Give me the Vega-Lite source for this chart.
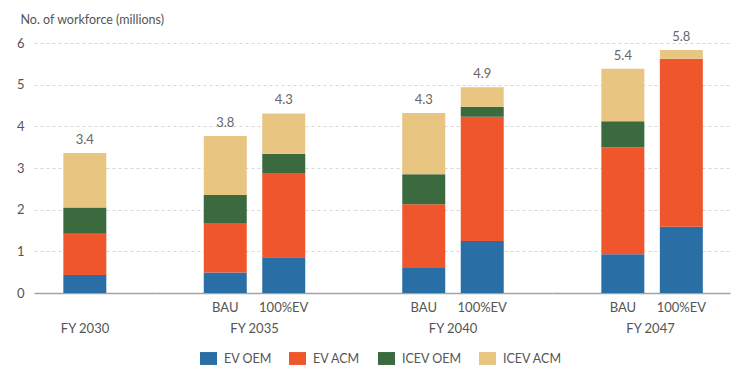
{
  "$schema": "https://vega.github.io/schema/vega-lite/v6.json",
  "padding": {"left": 16, "top": 13, "right": 5, "bottom": 5},
  "datasets": {
    "workforce": [
      {"year": "FY 2030", "scenario": "", "component": "EV OEM", "value": 0.43},
      {"year": "FY 2030", "scenario": "", "component": "EV ACM", "value": 0.99},
      {"year": "FY 2030", "scenario": "", "component": "ICEV OEM", "value": 0.63},
      {"year": "FY 2030", "scenario": "", "component": "ICEV ACM", "value": 1.31},
      {"year": "FY 2035", "scenario": "BAU", "component": "EV OEM", "value": 0.49},
      {"year": "FY 2035", "scenario": "BAU", "component": "EV ACM", "value": 1.19},
      {"year": "FY 2035", "scenario": "BAU", "component": "ICEV OEM", "value": 0.67},
      {"year": "FY 2035", "scenario": "BAU", "component": "ICEV ACM", "value": 1.42},
      {"year": "FY 2035", "scenario": "100%EV", "component": "EV OEM", "value": 0.86},
      {"year": "FY 2035", "scenario": "100%EV", "component": "EV ACM", "value": 2.02},
      {"year": "FY 2035", "scenario": "100%EV", "component": "ICEV OEM", "value": 0.46},
      {"year": "FY 2035", "scenario": "100%EV", "component": "ICEV ACM", "value": 0.97},
      {"year": "FY 2040", "scenario": "BAU", "component": "EV OEM", "value": 0.6},
      {"year": "FY 2040", "scenario": "BAU", "component": "EV ACM", "value": 1.53},
      {"year": "FY 2040", "scenario": "BAU", "component": "ICEV OEM", "value": 0.72},
      {"year": "FY 2040", "scenario": "BAU", "component": "ICEV ACM", "value": 1.47},
      {"year": "FY 2040", "scenario": "100%EV", "component": "EV OEM", "value": 1.25},
      {"year": "FY 2040", "scenario": "100%EV", "component": "EV ACM", "value": 2.98},
      {"year": "FY 2040", "scenario": "100%EV", "component": "ICEV OEM", "value": 0.24},
      {"year": "FY 2040", "scenario": "100%EV", "component": "ICEV ACM", "value": 0.47},
      {"year": "FY 2047", "scenario": "BAU", "component": "EV OEM", "value": 0.93},
      {"year": "FY 2047", "scenario": "BAU", "component": "EV ACM", "value": 2.57},
      {"year": "FY 2047", "scenario": "BAU", "component": "ICEV OEM", "value": 0.62},
      {"year": "FY 2047", "scenario": "BAU", "component": "ICEV ACM", "value": 1.26},
      {"year": "FY 2047", "scenario": "100%EV", "component": "EV OEM", "value": 1.59},
      {"year": "FY 2047", "scenario": "100%EV", "component": "EV ACM", "value": 4.03},
      {"year": "FY 2047", "scenario": "100%EV", "component": "ICEV OEM", "value": 0.0},
      {"year": "FY 2047", "scenario": "100%EV", "component": "ICEV ACM", "value": 0.21}
    ]
  },
  "data": {"name": "workforce"},
  "resolve": {"scale": {"x": "independent", "y": "independent", "color": "shared"}},
  "spacing": 0,
  "bounds": "flush",
  "hconcat": [
    {
      "width": 121,
      "height": 250,
      "transform": [
        {"filter": "datum.year === 'FY 2030'"},
        {"calculate": "indexof(['EV OEM','EV ACM','ICEV OEM','ICEV ACM'], datum.component)", "as": "ord"}
      ],
      "encoding": {
        "x": {"field": "scenario", "type": "nominal", "sort": null,
          "scale": {"paddingInner": 0.265, "paddingOuter": 0.667, "align": 0.376},
          "axis": {"title": "FY 2030", "labels": false, "ticks": false, "labelAngle": 0, "domainColor": "#a3a3a3", "domainWidth": 1.5, "titleX": 50.5, "titleY": 35, "titleBaseline": "middle", "titleFontWeight": "normal"}}
      },
      "layer": [
        {
          "mark": {"type": "bar"},
          "encoding": {
            "y": {"field": "value", "type": "quantitative", "stack": "zero",
              "scale": {"domain": [0, 6], "nice": false},
              "axis": {"title": "No. of workforce (millions)", "titleAngle": 0, "titleAlign": "left", "titleBaseline": "middle", "titleX": -14, "titleY": -24, "titleFontSize": 12.5, "titleFontWeight": "normal", "domain": false, "ticks": false, "labelPadding": 10, "values": [0, 1, 2, 3, 4, 5, 6], "gridDash": [3, 3], "gridColor": "#d6d6d6"}},
            "color": {"field": "component", "type": "nominal",
              "scale": {"domain": ["EV OEM", "EV ACM", "ICEV OEM", "ICEV ACM"], "range": ["#2a6ea6", "#f0562c", "#3a6a3e", "#e8c581"]},
              "legend": {"title": null, "orient": "none", "direction": "horizontal", "legendX": 166, "legendY": 307}},
            "order": {"field": "ord", "type": "quantitative", "sort": "ascending"}
          }
        },
        {
          "mark": {"type": "text", "dy": -13, "fontSize": 13, "color": "#666"},
          "encoding": {
            "y": {"aggregate": "sum", "field": "value", "type": "quantitative",
              "scale": {"domain": [0, 6], "nice": false},
              "axis": {"title": "No. of workforce (millions)", "titleAngle": 0, "titleAlign": "left", "titleBaseline": "middle", "titleX": -14, "titleY": -24, "titleFontSize": 12.5, "titleFontWeight": "normal", "domain": false, "ticks": false, "labelPadding": 10, "values": [0, 1, 2, 3, 4, 5, 6], "gridDash": [3, 3], "gridColor": "#d6d6d6"}},
            "text": {"aggregate": "sum", "field": "value", "type": "quantitative", "format": ".1f"}
          }
        }
      ]
    },
    {
      "width": 199,
      "height": 250,
      "transform": [
        {"filter": "datum.year === 'FY 2035'"},
        {"calculate": "indexof(['EV OEM','EV ACM','ICEV OEM','ICEV ACM'], datum.component)", "as": "ord"}
      ],
      "encoding": {
        "x": {"field": "scenario", "type": "nominal", "sort": ["BAU", "100%EV"],
          "scale": {"paddingInner": 0.265, "paddingOuter": 0.8335, "align": 0.5},
          "axis": {"title": "FY 2035", "ticks": false, "labelAngle": 0, "labelPadding": 8, "domainColor": "#a3a3a3", "domainWidth": 1.5, "titleX": 99, "titleY": 35, "titleBaseline": "middle", "titleFontWeight": "normal"}}
      },
      "layer": [
        {
          "mark": {"type": "bar"},
          "encoding": {
            "y": {"field": "value", "type": "quantitative", "stack": "zero",
              "scale": {"domain": [0, 6], "nice": false},
              "axis": {"title": null, "labels": false, "domain": false, "ticks": false, "minExtent": 0, "values": [0, 1, 2, 3, 4, 5, 6], "gridDash": [3, 3], "gridColor": "#d6d6d6"}},
            "color": {"field": "component", "type": "nominal",
              "scale": {"domain": ["EV OEM", "EV ACM", "ICEV OEM", "ICEV ACM"], "range": ["#2a6ea6", "#f0562c", "#3a6a3e", "#e8c581"]},
              "legend": {"title": null, "orient": "none", "direction": "horizontal", "legendX": 166, "legendY": 307}},
            "order": {"field": "ord", "type": "quantitative", "sort": "ascending"}
          }
        },
        {
          "mark": {"type": "text", "dy": -13, "fontSize": 13, "color": "#666"},
          "encoding": {
            "y": {"aggregate": "sum", "field": "value", "type": "quantitative",
              "scale": {"domain": [0, 6], "nice": false},
              "axis": {"title": null, "labels": false, "domain": false, "ticks": false, "minExtent": 0, "values": [0, 1, 2, 3, 4, 5, 6], "gridDash": [3, 3], "gridColor": "#d6d6d6"}},
            "text": {"aggregate": "sum", "field": "value", "type": "quantitative", "format": ".1f"}
          }
        }
      ]
    },
    {
      "width": 198,
      "height": 250,
      "transform": [
        {"filter": "datum.year === 'FY 2040'"},
        {"calculate": "indexof(['EV OEM','EV ACM','ICEV OEM','ICEV ACM'], datum.component)", "as": "ord"}
      ],
      "encoding": {
        "x": {"field": "scenario", "type": "nominal", "sort": ["BAU", "100%EV"],
          "scale": {"paddingInner": 0.265, "paddingOuter": 0.825, "align": 0.5},
          "axis": {"title": "FY 2040", "ticks": false, "labelAngle": 0, "labelPadding": 8, "domainColor": "#a3a3a3", "domainWidth": 1.5, "titleX": 98.5, "titleY": 35, "titleBaseline": "middle", "titleFontWeight": "normal"}}
      },
      "layer": [
        {
          "mark": {"type": "bar"},
          "encoding": {
            "y": {"field": "value", "type": "quantitative", "stack": "zero",
              "scale": {"domain": [0, 6], "nice": false},
              "axis": {"title": null, "labels": false, "domain": false, "ticks": false, "minExtent": 0, "values": [0, 1, 2, 3, 4, 5, 6], "gridDash": [3, 3], "gridColor": "#d6d6d6"}},
            "color": {"field": "component", "type": "nominal",
              "scale": {"domain": ["EV OEM", "EV ACM", "ICEV OEM", "ICEV ACM"], "range": ["#2a6ea6", "#f0562c", "#3a6a3e", "#e8c581"]},
              "legend": {"title": null, "orient": "none", "direction": "horizontal", "legendX": 166, "legendY": 307}},
            "order": {"field": "ord", "type": "quantitative", "sort": "ascending"}
          }
        },
        {
          "mark": {"type": "text", "dy": -13, "fontSize": 13, "color": "#666"},
          "encoding": {
            "y": {"aggregate": "sum", "field": "value", "type": "quantitative",
              "scale": {"domain": [0, 6], "nice": false},
              "axis": {"title": null, "labels": false, "domain": false, "ticks": false, "minExtent": 0, "values": [0, 1, 2, 3, 4, 5, 6], "gridDash": [3, 3], "gridColor": "#d6d6d6"}},
            "text": {"aggregate": "sum", "field": "value", "type": "quantitative", "format": ".1f"}
          }
        }
      ]
    },
    {
      "width": 178,
      "height": 250,
      "transform": [
        {"filter": "datum.year === 'FY 2047'"},
        {"calculate": "indexof(['EV OEM','EV ACM','ICEV OEM','ICEV ACM'], datum.component)", "as": "ord"}
      ],
      "encoding": {
        "x": {"field": "scenario", "type": "nominal", "sort": ["BAU", "100%EV"],
          "scale": {"paddingInner": 0.265, "paddingOuter": 0.654, "align": 0.645},
          "axis": {"title": "FY 2047", "ticks": false, "labelAngle": 0, "labelPadding": 8, "domainColor": "#a3a3a3", "domainWidth": 1.5, "titleX": 98, "titleY": 35, "titleBaseline": "middle", "titleFontWeight": "normal"}}
      },
      "layer": [
        {
          "mark": {"type": "bar"},
          "encoding": {
            "y": {"field": "value", "type": "quantitative", "stack": "zero",
              "scale": {"domain": [0, 6], "nice": false},
              "axis": {"title": null, "labels": false, "domain": false, "ticks": false, "minExtent": 0, "values": [0, 1, 2, 3, 4, 5, 6], "gridDash": [3, 3], "gridColor": "#d6d6d6"}},
            "color": {"field": "component", "type": "nominal",
              "scale": {"domain": ["EV OEM", "EV ACM", "ICEV OEM", "ICEV ACM"], "range": ["#2a6ea6", "#f0562c", "#3a6a3e", "#e8c581"]},
              "legend": {"title": null, "orient": "none", "direction": "horizontal", "legendX": 166, "legendY": 307}},
            "order": {"field": "ord", "type": "quantitative", "sort": "ascending"}
          }
        },
        {
          "mark": {"type": "text", "dy": -13, "fontSize": 13, "color": "#666"},
          "encoding": {
            "y": {"aggregate": "sum", "field": "value", "type": "quantitative",
              "scale": {"domain": [0, 6], "nice": false},
              "axis": {"title": null, "labels": false, "domain": false, "ticks": false, "minExtent": 0, "values": [0, 1, 2, 3, 4, 5, 6], "gridDash": [3, 3], "gridColor": "#d6d6d6"}},
            "text": {"aggregate": "sum", "field": "value", "type": "quantitative", "format": ".1f"}
          }
        }
      ]
    }
  ],
  "config": {
    "font": "Lato",
    "view": {"stroke": null},
    "axis": {"labelFont": "Lato", "titleFont": "Lato", "labelFontSize": 13, "titleFontSize": 13, "labelColor": "#555", "titleColor": "#555"},
    "legend": {
      "labelFont": "Lato",
      "labelFontSize": 12.5,
      "labelColor": "#555",
      "symbolType": "M-1,-0.76H1V0.76H-1Z",
      "symbolSize": 289,
      "symbolStrokeWidth": 0,
      "symbolOpacity": 1,
      "labelOffset": 7,
      "columnPadding": 17
    }
  }
}
